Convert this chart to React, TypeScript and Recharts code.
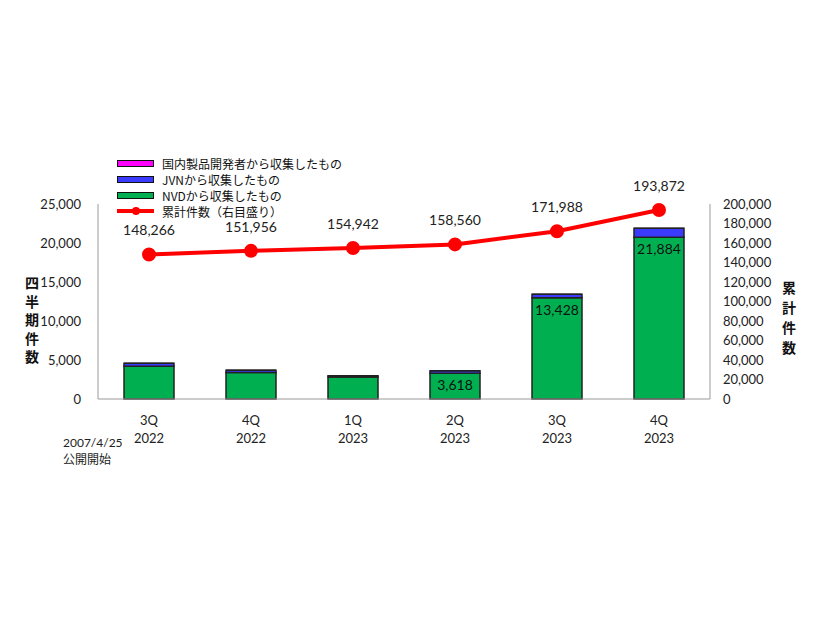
import { Bar, ComposedChart, LabelList, Line, XAxis, YAxis } from "recharts";

const quarters = ["3Q 2022", "4Q 2022", "1Q 2023", "2Q 2023", "3Q 2023", "4Q 2023"];
const nvdCounts = [4190, 3385, 2830, 3313, 12972, 20728];
const jvnCounts = [380, 300, 150, 300, 450, 1150];
const domesticCounts = [10, 5, 6, 5, 6, 6];
const cumulative = [148266, 151956, 154942, 158560, 171988, 193872];
const barLabels = ["", "", "", "3,618", "13,428", "21,884"];

const leftTicks = [0, 5000, 10000, 15000, 20000, 25000];
const rightTicks = [0, 20000, 40000, 60000, 80000, 100000, 120000, 140000, 160000, 180000, 200000];

const data = quarters.map((q, i) => ({
  quarter: q,
  nvd: nvdCounts[i],
  jvn: jvnCounts[i],
  domestic: domesticCounts[i],
  total: cumulative[i],
  barLabel: barLabels[i],
}));

const FONT = "Lato, 'Noto Sans CJK JP', sans-serif";
const fmt = (v: number) => v.toLocaleString("en-US");

// two line category tick, "3Q" over "2022"
const QuarterTick = ({ x, y, payload }: any) => {
  const [q, yr] = String(payload.value).split(" ");
  return (
    <text x={x} y={y} textAnchor="middle" fontSize={13} fill="#222" fontFamily={FONT}>
      <tspan x={x} dy={18}>{q}</tspan>
      <tspan x={x} dy={18}>{yr}</tspan>
    </text>
  );
};

const VerticalLabel = ({ text, x, y, gap }: { text: string; x: number; y: number; gap: number }) => (
  <text textAnchor="middle" fontSize={14} fontWeight="bold" fill="#111" fontFamily="'Noto Sans CJK JP', sans-serif">
    {text.split("").map((ch, i) => (
      <tspan key={i} x={x} y={y + i * gap}>
        {ch}
      </tspan>
    ))}
  </text>
);

const legendItems = [
  { name: "国内製品開発者から収集したもの", color: "#ff00ff" },
  { name: "JVNから収集したもの", color: "#3b3bff" },
  { name: "NVDから収集したもの", color: "#00b050" },
];

export default function App() {
  return (
    <div style={{ position: "absolute", left: 0, top: 0, width: 826, height: 620, background: "#fff" }}>
      <ComposedChart
        width={826}
        height={620}
        data={data}
        margin={{ top: 204, right: 56, left: 38, bottom: 181 }}
        barCategoryGap={0}
      >
        <XAxis
          dataKey="quarter"
          height={40}
          tick={<QuarterTick />}
          tickLine={false}
          axisLine={{ stroke: "#999" }}
          interval={0}
        />
        <YAxis
          yAxisId="left"
          domain={[0, 25000]}
          ticks={leftTicks}
          interval={0}
          width={60}
          tickLine={false}
          tickSize={0}
          tickMargin={17}
          tickFormatter={fmt}
          axisLine={{ stroke: "#999" }}
          tick={{ fontSize: 13, fill: "#222", fontFamily: FONT }}
        />
        <YAxis
          yAxisId="right"
          orientation="right"
          domain={[0, 200000]}
          ticks={rightTicks}
          interval={0}
          width={60}
          tickLine={false}
          tickSize={0}
          tickMargin={13}
          tickFormatter={fmt}
          axisLine={{ stroke: "#999" }}
          tick={{ fontSize: 13, fill: "#222", fontFamily: FONT, textAnchor: "start" }}
        />
        <Bar yAxisId="left" dataKey="nvd" stackId="q" fill="#00b050" stroke="#222" strokeWidth={1.5} barSize={50} isAnimationActive={false}>
          <LabelList
            dataKey="barLabel"
            content={({ x, y, width, value }: any) =>
              value ? (
                <text x={x + width / 2} y={y + 17} textAnchor="middle" fontSize={14} fill="#111" fontFamily={FONT}>
                  {value}
                </text>
              ) : null
            }
          />
        </Bar>
        <Bar yAxisId="left" dataKey="jvn" stackId="q" fill="#3b3bff" stroke="#222" strokeWidth={1.5} barSize={50} isAnimationActive={false} />
        <Bar yAxisId="left" dataKey="domestic" stackId="q" fill="#ff00ff" stroke="#222" strokeWidth={1} barSize={50} isAnimationActive={false} />
        <Line
          yAxisId="right"
          dataKey="total"
          stroke="#ff0000"
          strokeWidth={4}
          dot={{ r: 5, fill: "#ff0000", stroke: "#ff0000" }}
          isAnimationActive={false}
        >
          <LabelList
            dataKey="total"
            content={({ x, y, value }: any) => (
              <text x={x} y={y - 19} textAnchor="middle" fontSize={14} fill="#222" fontFamily={FONT}>
                {fmt(value)}
              </text>
            )}
          />
        </Line>
        <VerticalLabel text="四半期件数" x={32} y={288} gap={18.5} />
        <VerticalLabel text="累計件数" x={789} y={293} gap={20} />
      </ComposedChart>

      {/* legend */}
      <div style={{ position: "absolute", left: 117, top: 155, fontFamily: "'Noto Sans CJK JP', sans-serif", fontSize: 12, color: "#111" }}>
        {legendItems.map((it) => (
          <div key={it.name} style={{ display: "flex", alignItems: "center", height: 16 }}>
            <span style={{ width: 35, height: 5, background: it.color, border: "1px solid #111", marginRight: 8 }} />
            {it.name}
          </div>
        ))}
        <div style={{ display: "flex", alignItems: "center", height: 16 }}>
          <span style={{ position: "relative", width: 37, height: 4, background: "#ff0000", marginRight: 8 }}>
            <span style={{ position: "absolute", left: 15, top: -2, width: 8, height: 8, borderRadius: 4, background: "#ff0000" }} />
          </span>
          累計件数（右目盛り）
        </div>
      </div>

      <div style={{ position: "absolute", left: 63, top: 434, fontFamily: FONT, fontSize: 12, color: "#222", lineHeight: "17px" }}>
        2007/4/25
        <br />
        公開開始
      </div>
    </div>
  );
}
